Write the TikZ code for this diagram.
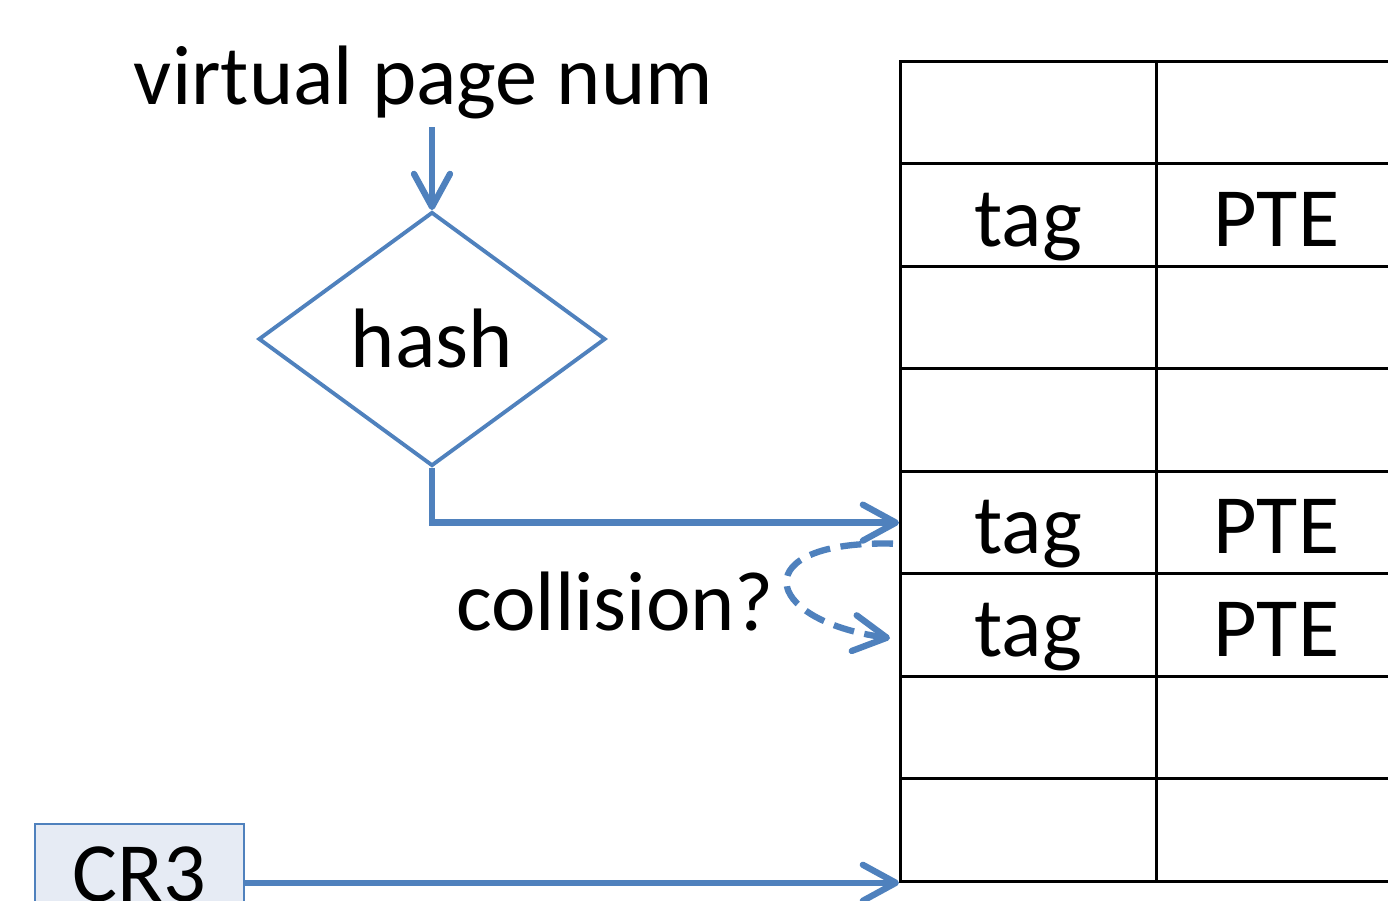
\documentclass[tikz,border=0pt]{standalone}
\usepackage{fontspec}
\setmainfont{Carlito}
\usetikzlibrary{arrows.meta}
\usetikzlibrary{shapes.geometric}
\definecolor{lineblue}{RGB}{79,129,189}
\definecolor{boxfill}{RGB}{230,235,244}

\begin{document}
\begin{tikzpicture}[>={Straight Barb[length=3.3mm,width=3.6mm,round]},
  flow/.style={->,draw=lineblue,line width=1.8pt},
  cell/.style={draw,line width=0.8pt,minimum height=1.025cm,inner sep=0,anchor=north west},
  lbl/.style={font=\fontsize{24}{29}\selectfont,inner sep=2pt}]
\clip (0,0) rectangle (13.88,9);
\node [lbl,anchor=base,name=vpn] at (4.235,7.95) {virtual page num};
\node [lbl,diamond,draw=lineblue,line width=1.1pt,minimum width=3.47cm,minimum height=2.54cm,inner sep=0,name=hash] at (4.32,5.61) {hash};
\foreach \i in {1,...,8} {
  \node [cell,minimum width=2.56cm,name=a\i] at (8.99,{8.4-1.025*(\i-1)}) {};
  \node [cell,minimum width=2.40cm,name=b\i] at (11.55,{8.4-1.025*(\i-1)}) {};
}
\foreach \i in {2,5,6} {
  \node [lbl,anchor=base,yshift=-3.1mm] at (a\i) {tag};
  \node [lbl,anchor=base,yshift=-3.1mm] at (b\i) {PTE};
}
\node [lbl,anchor=base east,name=coll] at (7.82,2.70) {collision?};
\node [lbl,draw=lineblue,line width=0.7pt,fill=boxfill,minimum width=2.09cm,minimum height=1cm,anchor=north,name=cr3] at (1.395,0.77) {CR3};
\coordinate (cstart) at ([xshift=-0.6mm,yshift=-2.1mm]a5.west);
\coordinate (cend) at ([xshift=-0.9mm,yshift=-1.3mm]a6.west);
\draw [flow] (vpn.south -| hash.north) -- (hash.north);
\draw [flow] (hash.south) |- (a5.west);
\draw [flow,dash pattern=on 6pt off 3pt] (cstart) .. controls (7.45,3.6) and (7.6,2.8) .. (cend);
\draw [flow] (cr3.east |- a8.south west) -- (a8.south west);
\end{tikzpicture}
\end{document}
